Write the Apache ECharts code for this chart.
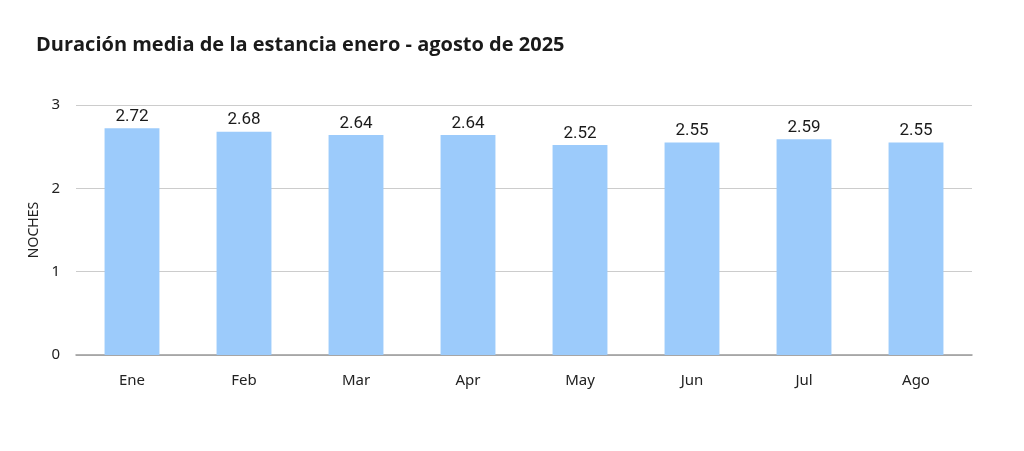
<!DOCTYPE html>
<html>
<head>
<meta charset="utf-8">
<script src="https://cdn.jsdelivr.net/npm/echarts@6/dist/echarts.min.js"></script>
<style>
  html, body { margin: 0; padding: 0; background: #fff; }
  #main { width: 1024px; height: 451px; }
</style>
</head>
<body>
<div id="main"></div>
<script>
var meses = ['Ene', 'Feb', 'Mar', 'Apr', 'May', 'Jun', 'Jul', 'Ago'];
var noches = [2.72, 2.68, 2.64, 2.64, 2.52, 2.55, 2.59, 2.55];

var myChart = echarts.init(document.getElementById('main'));
var option = {
	backgroundColor: '#ffffff',
	title: {
		text: 'Duración media de la estancia enero - agosto de 2025',
		left: 31,
		top: 30,
		textStyle: {
			fontFamily: 'Open Sans',
			fontSize: 20,
			fontWeight: 'bold',
			color: '#1a1a1a'
		}
	},
	grid: {
		left: 76,
		right: 52,
		top: 105,
		bottom: 96
	},
	xAxis: {
		type: 'category',
		data: meses,
		axisTick: { show: false },
		axisLine: { lineStyle: { color: '#999999', width: 1.5 } },
		axisLabel: {
			margin: 18,
			fontFamily: 'Noto Sans',
			fontSize: 15,
			color: '#222222'
		}
	},
	yAxis: {
		type: 'value',
		min: 0,
		max: 3,
		interval: 1,
		name: 'NOCHES',
		nameLocation: 'middle',
		nameGap: 35,
		nameTextStyle: {
			fontFamily: 'Noto Sans',
			fontSize: 14,
			color: '#222222'
		},
		axisLabel: {
			margin: 16,
			fontFamily: 'Noto Sans',
			fontSize: 15,
			color: '#222222'
		},
		splitLine: { lineStyle: { color: '#cccccc', width: 1 } }
	},
	series: [{
		name: 'Noches',
		type: 'bar',
		data: noches,
		barWidth: '49%',
		itemStyle: { color: '#9ccbfb' },
		label: {
			show: true,
			position: 'top',
			distance: 3,
			fontFamily: 'Roboto',
			fontSize: 17,
			color: '#1a1a1a'
		}
	}]
};
myChart.setOption(option);
</script>
</body>
</html>
